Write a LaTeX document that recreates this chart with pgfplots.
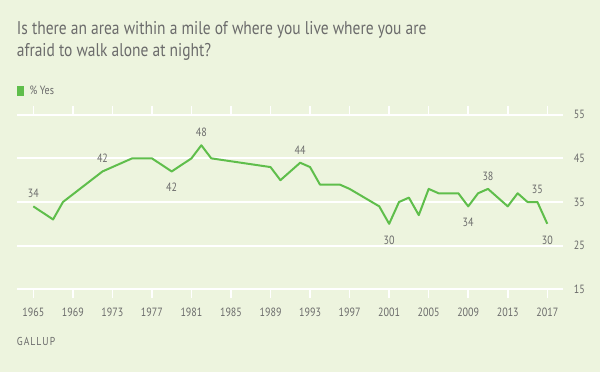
\documentclass[border=0pt]{standalone}
\usepackage{fontspec}
\setmainfont{PT Sans}[FakeStretch=0.84]
\usepackage{pgfplots}
\pgfplotsset{compat=1.18}
\definecolor{bgc}{HTML}{EDF4DE}
\definecolor{gline}{HTML}{5FBE4B}
\definecolor{txt}{HTML}{6B6B6B}
\begin{document}
\begin{tikzpicture}
\useasboundingbox (0bp,0bp) rectangle (600bp,372bp);
\fill[bgc] (0bp,0bp) rectangle (600bp,372bp);
\node[anchor=base west, inner sep=0pt, text=txt, font=\fontsize{18.5}{22}\selectfont] at (16.7bp,337.7bp) {Is there an area within a mile of where you live where you are};
\node[anchor=base west, inner sep=0pt, text=txt, font=\fontsize{18.5}{22}\selectfont] at (16.7bp,315.3bp) {afraid to walk alone at night?};
\fill[gline] (16.7bp,276.3bp) rectangle (24.3bp,286bp);
\node[anchor=base west, inner sep=0pt, text=txt, font=\fontsize{12}{14}\selectfont] at (29.3bp,277.7bp) {\% Yes};
\node[anchor=base west, inner sep=0pt, text=txt, font=\fontsize{11.5}{13}\selectfont\addfontfeature{LetterSpace=9}] at (16.7bp,26.3bp) {GALLUP};
\begin{axis}[
  at={(16.7bp,82.7bp)}, anchor=south west,
  scale only axis, width=546.6bp, height=174.6bp,
  xmin=1963.32, xmax=2018.62, ymin=15, ymax=55,
  clip=false,
  axis line style={draw=none},
  xtick={1965,1969,...,2017},
  ytick={15,25,35,45,55},
  ymajorgrids, major grid style={white, line width=1.8bp},
  tick align=outside,
  xtick style={white, line width=1.5bp},
  ytick style={draw=none},
  major tick length=9bp,
  yticklabel pos=right,
  xticklabel style={text=txt, font=\fontsize{12}{14}\selectfont, yshift=-6bp},
  yticklabel style={text=txt, font=\fontsize{12}{14}\selectfont, anchor=west, xshift=-2bp},
  /pgf/number format/assume math mode=true,
  xticklabel={\pgfmathprintnumber[1000 sep={}]{\tick}},
]
\addplot[gline, line width=2bp, line join=round] coordinates {
(1965,34) (1967,31) (1968,35) (1972,42) (1975,45) (1977,45) (1979,42) (1981,45) (1982,48) (1983,45)
(1989,43) (1990,40) (1992,44) (1993,43) (1994,39) (1996,39) (1997,38) (2000,34) (2001,30) (2002,35)
(2003,36) (2004,32) (2005,38) (2006,37) (2007,37) (2008,37) (2009,34) (2010,37) (2011,38) (2013,34)
(2014,37) (2015,35) (2016,35) (2017,30)};
\tikzset{lab/.style={text=txt, font=\fontsize{12}{14}\selectfont}}
\node[lab, above=5bp] at (axis cs:1965,34) {34};
\node[lab, above=5bp] at (axis cs:1972,42) {42};
\node[lab, below=8.5bp] at (axis cs:1979,42) {42};
\node[lab, above=5bp] at (axis cs:1982,48) {48};
\node[lab, above=5bp] at (axis cs:1992,44) {44};
\node[lab, below=8.5bp] at (axis cs:2001,30) {30};
\node[lab, below=8.5bp] at (axis cs:2009,34) {34};
\node[lab, above=5bp] at (axis cs:2011,38) {38};
\node[lab, above=5bp] at (axis cs:2016,35) {35};
\node[lab, below=8.5bp] at (axis cs:2017,30) {30};
\end{axis}
\end{tikzpicture}
\end{document}
